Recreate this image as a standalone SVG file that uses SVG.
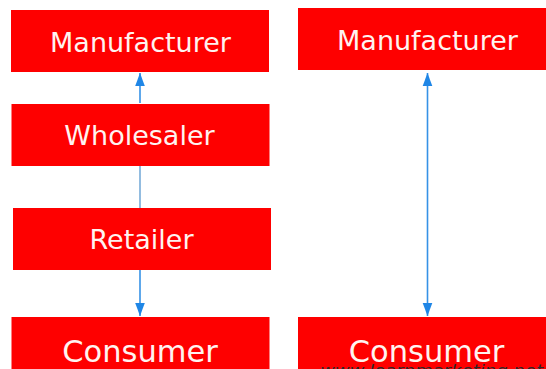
<svg xmlns="http://www.w3.org/2000/svg" width="546" height="369" viewBox="0 0 546 369">
  <defs>
    <style>
      .box { fill: #fe0000; }
      .lbl { font-family: "DejaVu Sans", Verdana, sans-serif; font-size: 27px; fill: #fff3f0; text-anchor: middle; }
      .big { font-size: 30.5px; }
      .arrow { stroke: #3592e6; stroke-width: 1.6; fill: none; }
      .thin { stroke: #4a8fcc; stroke-width: 1.2; fill: none; }
      .wm { font-family: "DejaVu Sans", Verdana, sans-serif; font-size: 16px; font-style: italic; fill: #2a2a2a; }
    </style>
    <marker id="head" viewBox="0 0 13 12" refX="13" refY="6" markerWidth="13" markerHeight="12" markerUnits="userSpaceOnUse" orient="auto-start-reverse">
      <path d="M0,1.2 L13,6 L0,10.8 Z" fill="#1f86e6"/>
    </marker>
  </defs>
  <rect width="546" height="369" fill="#ffffff"/>

  <g id="connectors">
    <line class="arrow" x1="140" y1="103" x2="140" y2="73" marker-end="url(#head)"/>
    <line class="thin" x1="140" y1="166" x2="140" y2="208"/>
    <line class="arrow" x1="140" y1="270" x2="140" y2="316" marker-end="url(#head)"/>
    <line class="arrow" x1="427.5" y1="73" x2="427.5" y2="316" stroke="#6fb4f4" stroke-width="1.8" marker-start="url(#head)" marker-end="url(#head)"/>
  </g>

  <g id="manufacturer-left">
    <rect class="box" x="11" y="10" width="258" height="62"/>
    <text class="lbl" x="140.5" y="51.5">Manufacturer</text>
  </g>
  <g id="wholesaler">
    <rect class="box" x="11.5" y="104" width="258" height="62"/>
    <text class="lbl" x="139.5" y="145">Wholesaler</text>
  </g>
  <g id="retailer">
    <rect class="box" x="13" y="208" width="258" height="62"/>
    <text class="lbl" x="141.5" y="249">Retailer</text>
  </g>
  <g id="consumer-left">
    <rect class="box" x="11.5" y="317" width="258" height="60"/>
    <text class="lbl big" x="140" y="362">Consumer</text>
  </g>
  <g id="manufacturer-right">
    <rect class="box" x="298" y="8" width="250" height="62"/>
    <text class="lbl" x="427.5" y="50">Manufacturer</text>
  </g>
  <g id="consumer-right">
    <rect class="box" x="298" y="317" width="250" height="60"/>
    <text class="lbl big" x="426.5" y="362">Consumer</text>
  </g>
  <text class="wm" x="320" y="376" textLength="223" lengthAdjust="spacingAndGlyphs">www.learnmarketing.net</text>
</svg>
